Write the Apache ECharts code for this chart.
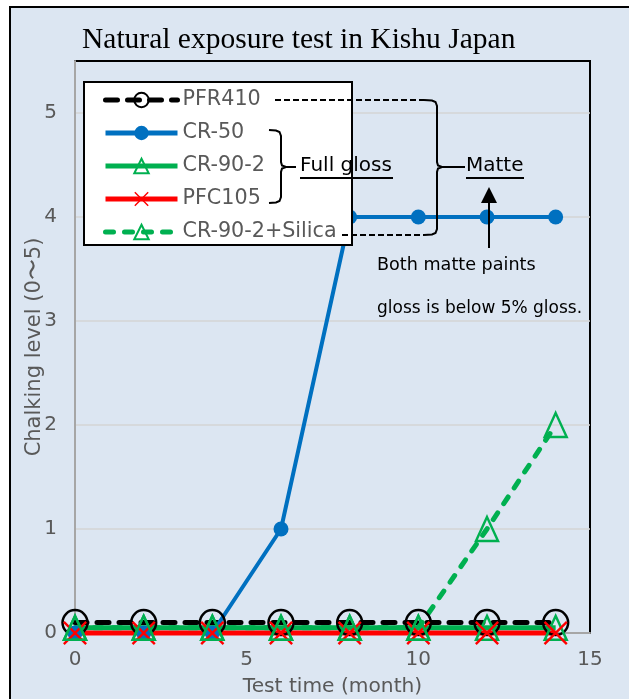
<!DOCTYPE html>
<html><head><meta charset="utf-8">
<script src="https://cdn.jsdelivr.net/npm/echarts@6/dist/echarts.min.js"></script>
<style>html,body{margin:0;padding:0;background:#fff}#c{width:629px;height:699px}</style>
</head><body><div id="c"></div>
<script>
// ---- data ----
const months = [0, 2, 4, 6, 8, 10, 12, 14];
const seriesNames = ['PFR410', 'CR-50', 'CR-90-2', 'PFC105', 'CR-90-2+Silica'];
const pfr410 = [0.1, 0.1, 0.1, 0.1, 0.1, 0.1, 0.1, 0.1];
const cr50 = [0, 0, 0, 1, 4, 4, 4, 4];
const cr902 = [0.05, 0.05, 0.05, 0.05, 0.05, 0.05, 0.05, 0.05];
const pfc105 = [0, 0, 0, 0, 0, 0, 0, 0];
const cr902Silica = [0.05, 0.05, 0.05, 0.05, 0.05, 0.05, 1, 2];
const xAxisRange = [0, 15, 5];   // min, max, interval
const yAxisRange = [0, 5.5, 1];
const titleText = 'Natural exposure test in Kishu Japan';
const xName = 'Test time (month)';
const yName = 'Chalking level (0〜5)';

const pair = v => months.map((m, i) => [m, v[i]]);
const FONT = '"DejaVu Sans", sans-serif';
const GREY = '#595959';
const GREEN = '#00b050', BLUE = '#0070c0', RED = '#ff0000';
const XPATH = 'path://M0,7L7,0L50,43L93,0L100,7L57,50L100,93L93,100L50,57L7,100L0,93L43,50Z';

function brace(x0, xv, y0, y1, ym, xt) {
  return [
    [x0, y0], [xv - 5, y0 + 0.5], [xv - 1.5, y0 + 2], [xv, y0 + 6],
    [xv, ym - 5], [xv + 1, ym - 1.5], [xv + 5, ym], [xt, ym], [xv + 5, ym],
    [xv + 1, ym + 1.5], [xv, ym + 5],
    [xv, y1 - 6], [xv - 1.5, y1 - 2], [xv - 5, y1 - 0.5], [x0, y1]
  ];
}

const chart = echarts.init(document.getElementById('c'));
chart.setOption({
  animation: false,
  title: {
    text: titleText, left: 82, top: 25, padding: 0,
    textStyle: { fontFamily: '"Liberation Serif", serif', fontWeight: 'normal', fontSize: 29.5, color: '#000' }
  },
  grid: { left: 75, right: 39, top: 61, bottom: 66, outerBoundsMode: 'none', containLabel: false,
    show: true, borderColor: '#000', borderWidth: 2, backgroundColor: 'transparent' },
  xAxis: {
    type: 'value', min: xAxisRange[0], max: xAxisRange[1], interval: xAxisRange[2],
    name: xName, nameLocation: 'middle', nameGap: 44, nameMoveOverlap: false,
    nameTextStyle: { fontFamily: FONT, fontSize: 20.2, color: GREY },
    axisLine: { show: true, lineStyle: { color: '#a6a6a6', width: 2 } },
    axisTick: { show: false }, splitLine: { show: false },
    axisLabel: { fontFamily: FONT, fontSize: 20, color: GREY, margin: 17 }
  },
  yAxis: {
    type: 'value', min: yAxisRange[0], max: yAxisRange[1], interval: yAxisRange[2],
    name: yName, nameLocation: 'middle', nameGap: 30, nameMoveOverlap: false,
    nameTextStyle: { fontFamily: FONT, fontSize: 21, color: GREY },
    axisLine: { show: true, lineStyle: { color: '#a6a6a6', width: 2 } },
    axisTick: { show: false },
    splitLine: { show: true, showMaxLine: false, lineStyle: { color: '#d4d4d4', width: 1.5 } },
    axisLabel: { fontFamily: FONT, fontSize: 20, color: GREY, margin: 18, showMaxLabel: false }
  },
  legend: {
    orient: 'vertical', left: 103, top: 89, padding: 0, zlevel: 1, z: 4,
    itemWidth: 72, itemHeight: 18, itemGap: 11,
    lineStyle: { width: 5 },
    textStyle: { fontFamily: FONT, fontSize: 20.7, color: GREY, lineHeight: 22 },
    data: seriesNames
  },
  series: [
    { name: seriesNames[0], type: 'line', data: pair(pfr410), clip: false,
      symbol: 'circle', symbolSize: 25,
      itemStyle: { color: 'rgba(0,0,0,0)', borderColor: '#000', borderWidth: 2.5 },
      lineStyle: { color: '#000', width: 5, type: [12, 10], cap: 'round' } },
    { name: seriesNames[1], type: 'line', data: pair(cr50), clip: false,
      symbol: 'circle', symbolSize: 15,
      itemStyle: { color: BLUE },
      lineStyle: { color: BLUE, width: 4 } },
    { name: seriesNames[2], type: 'line', data: pair(cr902), clip: false,
      symbol: 'triangle', symbolSize: [22, 24],
      itemStyle: { color: 'rgba(0,0,0,0)', borderColor: GREEN, borderWidth: 2.5 },
      lineStyle: { color: GREEN, width: 5 } },
    { name: seriesNames[3], type: 'line', data: pair(pfc105), clip: false,
      symbol: XPATH, symbolSize: 24,
      itemStyle: { color: RED },
      lineStyle: { color: RED, width: 5 } },
    { name: seriesNames[4], type: 'line', data: pair(cr902Silica), clip: false,
      symbol: 'triangle', symbolSize: [22, 24],
      itemStyle: { color: 'rgba(0,0,0,0)', borderColor: GREEN, borderWidth: 2.5 },
      lineStyle: { color: GREEN, width: 5, type: [8, 11], cap: 'round' } }
  ],
  graphic: { elements: [
    { type: 'rect', silent: true, z: -1, shape: { x: 10, y: 7, width: 700, height: 800 },
      style: { fill: '#dce6f2', stroke: '#000', lineWidth: 2 } },
    { type: 'rect', silent: true, zlevel: 1, z: 3, shape: { x: 84, y: 82, width: 268, height: 163 },
      style: { fill: '#fff', stroke: '#000', lineWidth: 2 } },
    { type: 'line', silent: true, zlevel: 1, z: 5, shape: { x1: 275, y1: 100, x2: 424, y2: 100 },
      style: { stroke: '#000', lineWidth: 2, lineDash: [6, 3] } },
    { type: 'line', silent: true, zlevel: 1, z: 5, shape: { x1: 342, y1: 235, x2: 424, y2: 235 },
      style: { stroke: '#000', lineWidth: 2, lineDash: [6, 3] } },
    { type: 'polyline', silent: true, zlevel: 1, z: 5, shape: { points: brace(269, 281, 130, 203, 167, 296) },
      style: { stroke: '#000', lineWidth: 2, fill: null } },
    { type: 'polyline', silent: true, zlevel: 1, z: 5, shape: { points: brace(424, 437, 100, 235, 167, 465) },
      style: { stroke: '#000', lineWidth: 2, fill: null } },
    { type: 'text', silent: true, zlevel: 1, z: 6, x: 300, y: 166,
      style: { text: 'Full gloss', fontFamily: FONT, fontSize: 20, fill: '#000', verticalAlign: 'middle' } },
    { type: 'line', silent: true, zlevel: 1, z: 6, shape: { x1: 300, y1: 178, x2: 393, y2: 178 }, style: { stroke: '#000', lineWidth: 2 } },
    { type: 'text', silent: true, zlevel: 1, z: 6, x: 466, y: 166,
      style: { text: 'Matte', fontFamily: FONT, fontSize: 20, fill: '#000', verticalAlign: 'middle' } },
    { type: 'line', silent: true, zlevel: 1, z: 6, shape: { x1: 466, y1: 178, x2: 524, y2: 178 }, style: { stroke: '#000', lineWidth: 2 } },
    { type: 'line', silent: true, zlevel: 1, z: 6, shape: { x1: 489, y1: 248, x2: 489, y2: 200 }, style: { stroke: '#000', lineWidth: 2 } },
    { type: 'polygon', silent: true, zlevel: 1, z: 6, shape: { points: [[481, 203], [497, 203], [489, 187]] }, style: { fill: '#000' } },
    { type: 'text', silent: true, zlevel: 1, z: 6, x: 377, y: 265,
      style: { text: 'Both matte paints', fontFamily: FONT, fontSize: 17.6, fill: '#000', verticalAlign: 'middle' } },
    { type: 'text', silent: true, zlevel: 1, z: 6, x: 377, y: 309,
      style: { text: 'gloss is below 5% gloss.', fontFamily: FONT, fontSize: 17, fill: '#000', verticalAlign: 'middle' } }
  ] }
});
</script></body></html>
